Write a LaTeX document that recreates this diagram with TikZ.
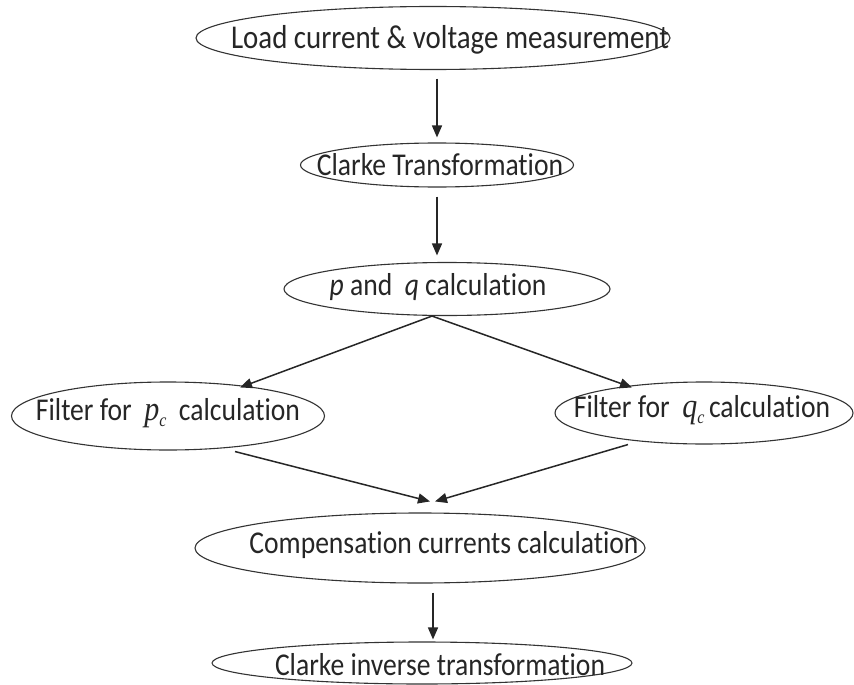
\documentclass[tikz,border=0pt]{standalone}
\usepackage{graphicx}
\usepackage{fontspec}
\setmainfont[Ligatures=NoCommon]{Carlito}
\newfontfamily\mathserif{Liberation Serif}
\usetikzlibrary{arrows.meta,shapes.geometric}
\newcommand{\symit}[2]{{\mathserif\itshape\fontsize{30}{30}\selectfont #1}\raisebox{-5pt}{\mathserif\itshape\fontsize{16}{16}\selectfont #2}}
\newcommand{\tall}[1]{\scalebox{1}[1.15]{#1}}
\tikzset{
  oval/.style={ellipse, draw=black!80, line width=1.1pt, inner sep=0pt},
  lbl/.style={inner sep=0pt, text=black!85, font=\fontsize{27.6}{30}\selectfont},
  arr/.style={draw=black!85, line width=1.5pt, -{Triangle[length=12pt,width=10pt]}}
}
\begin{document}
\begin{tikzpicture}[x=1pt,y=-1pt]
\useasboundingbox (0,0) rectangle (854,685);
\fill[white] (0,0) rectangle (854,685);
% ovals
\node[oval, minimum width=474pt, minimum height=63pt] (n1) at (433,38) {};
\node[oval, minimum width=273pt, minimum height=44pt] (n2) at (437,165) {};
\node[oval, minimum width=326pt, minimum height=53pt] (n3) at (447,289) {};
\node[oval, minimum width=313pt, minimum height=68pt] (n4) at (168,416) {};
\node[oval, minimum width=298pt, minimum height=62pt] (n5) at (704,413) {};
\node[oval, minimum width=450pt, minimum height=70pt] (n6) at (420,548) {};
\node[oval, minimum width=420pt, minimum height=42pt] (n7) at (422,663) {};
% labels
\node[lbl, font=\fontsize{28.9}{30}\selectfont] (t1) at (450,40) {\tall{Load current \& voltage measurement}};
\node[lbl] (t2) at (440,165) {\tall{Clarke Transformation}};
\node[lbl] (t3) at (438,287) {\tall{\textit{p} and\ \ \textit{q} calculation}};
\node[lbl] (t4) at (168,413) {\tall{Filter for\ \ \symit{p}{c}\ \ calculation}};
\node[lbl] (t5) at (702,410) {\tall{Filter for\ \ \symit{q}{c}\,calculation}};
\node[lbl] (t6) at (444,545) {\tall{Compensation currents calculation}};
\node[lbl] (t7) at (440,665) {\tall{Clarke inverse transformation}};
% connectors
\draw[arr] ([xshift=4pt,yshift=-8.5pt]n1.south) -- ([yshift=5pt]n2.north);
\draw[arr] ([yshift=-9pt]n2.south) -- ([xshift=-10pt,yshift=6.5pt]n3.north);
\draw[arr] ([xshift=-15pt]n3.south) -- ([xshift=72pt,yshift=-6pt]n4.north);
\draw[arr] ([xshift=-15pt]n3.south) -- ([xshift=-72pt,yshift=-6pt]n5.north);
\draw[arr] ([xshift=67pt,yshift=-1pt]n4.south) -- ([xshift=10pt,yshift=11pt]n6.north);
\draw[arr] ([xshift=-76pt]n5.south) -- ([xshift=15pt,yshift=11pt]n6.north);
\draw[arr] ([xshift=13pt,yshift=-9pt]n6.south) -- ([xshift=11pt,yshift=2pt]n7.north);
\end{tikzpicture}
\end{document}
